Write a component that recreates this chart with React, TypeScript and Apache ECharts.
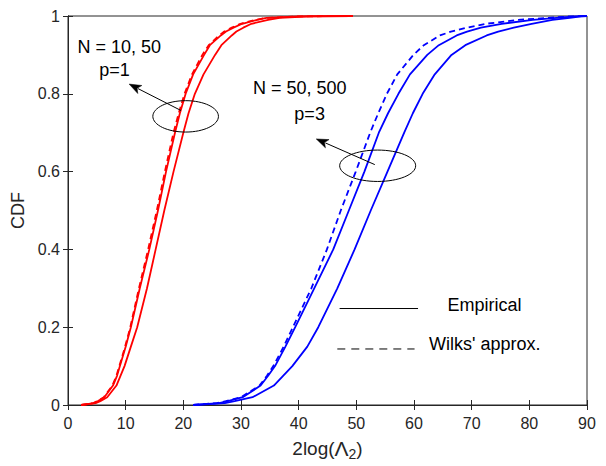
import React, { useEffect, useRef } from "react";
import * as echarts from "echarts";

// CDF levels shared by every curve (y values)
const cdfLevels = [0, 0.005, 0.01, 0.02, 0.05, 0.075, 0.1, 0.15, 0.2, 0.3, 0.4, 0.5, 0.6, 0.7, 0.75, 0.8, 0.85, 0.9, 0.925, 0.95, 0.96, 0.97, 0.98, 0.99, 0.995, 0.999, 1];

// quantiles (x values), one per CDF level
const redEmpiricalA = [2.3, 4.5, 5.2, 6.3, 7.8, 8.5, 9.0, 10.0, 10.9, 12.45, 14.1, 15.6, 17.0, 18.55, 19.4, 20.4, 21.7, 23.6, 24.6, 26.5, 27.4, 28.7, 30.2, 32.8, 34.4, 40.0, 49.4];
const redEmpiricalB = [2.3, 4.8, 5.6, 6.8, 8.4, 9.1, 9.8, 10.9, 12.0, 13.7, 15.2, 16.7, 18.3, 20.0, 20.9, 22.0, 23.5, 25.5, 26.6, 28.4, 29.2, 30.4, 31.8, 34.7, 36.7, 42.0, 49.4];
const redWilks = [2.3, 4.4, 5.1, 6.2, 7.7, 8.4, 8.9, 9.9, 10.8, 12.3, 13.9, 15.4, 16.8, 18.3, 19.2, 20.2, 21.5, 23.3, 24.4, 26.2, 27.1, 28.4, 29.9, 32.5, 34.2, 40.0, 49.4];
const blueWilks = [21.7, 25.8, 27.4, 30.0, 33.2, 34.5, 35.6, 37.4, 39.0, 42.2, 44.9, 47.3, 49.9, 52.4, 53.8, 55.3, 57.1, 59.9, 61.7, 64.5, 66.4, 69.2, 72.5, 78.0, 83.0, 87.0, 90];
const blueEmpiricalA = [21.7, 26.2, 27.7, 30.3, 33.4, 34.7, 35.9, 37.7, 39.4, 42.7, 46.0, 48.7, 51.4, 53.9, 55.5, 57.3, 59.3, 62.3, 64.3, 67.4, 69.2, 71.6, 75.2, 80.6, 84.7, 88.0, 90];
const blueEmpiricalB = [21.7, 27.2, 28.9, 32.0, 35.7, 37.3, 38.9, 41.5, 43.4, 46.7, 49.7, 52.5, 55.4, 58.3, 59.8, 61.5, 63.6, 66.5, 68.9, 72.6, 74.6, 77.3, 80.4, 84.0, 87.0, 89.0, 90];

const xTicks = [0, 10, 20, 30, 40, 50, 60, 70, 80, 90];
const yTicks = [0, 0.2, 0.4, 0.6, 0.8, 1];

const annoTexts = [
  { text: "N = 10, 50", x: 8.9, y: 0.921 },
  { text: "p=1", x: 8.07, y: 0.862 },
  { text: "N = 50, 500", x: 40.2, y: 0.815 },
  { text: "p=3", x: 41.9, y: 0.749 },
];
const ellipses = [
  { x: 20.4, y: 0.742, rx: 32.8, ry: 15.7 },
  { x: 53.7, y: 0.615, rx: 38, ry: 15.7 },
];
const arrows = [
  { from: [19.6, 0.757], to: [10.6, 0.825] },
  { from: [53.2, 0.618], to: [43.05, 0.684] },
];
const legendItems = [
  { label: "Empirical", x0: 47.1, x1: 60.7, y: 0.248, tx: 65.8, ty: 0.257, dashed: false },
  { label: "Wilks' approx.", x0: 46.7, x1: 60.1, y: 0.144, tx: 62.6, ty: 0.156, dashed: true },
];

const FONT = "Liberation Sans, Arial, Helvetica, sans-serif";
const AXIS_COLOR = "#262626";

function pairs(xs: number[]) {
  return xs.map((x, i) => [x, cdfLevels[i]]);
}

export default function App() {
  const ref = useRef<HTMLDivElement>(null);
  useEffect(() => {
    if (!ref.current) return;
    const chart = echarts.init(ref.current, undefined, { renderer: "svg" });
    const lineSeries = (name: string, xs: number[], color: string, dashed: boolean) => ({
      name,
      type: "line",
      data: pairs(xs),
      showSymbol: false,
      symbol: "none",
      smooth: false,
      lineStyle: { color, width: 1.8, type: dashed ? [6, 4] : "solid" },
      z: dashed ? 3 : 2,
    });
    const axisCommon = {
      type: "value",
      axisLine: { show: true, lineStyle: { color: AXIS_COLOR, width: 1 } },
      axisTick: { show: true, inside: true, length: 5, lineStyle: { color: AXIS_COLOR } },
      splitLine: { show: false },
    };
    chart.setOption({
      animation: false,
      backgroundColor: "#fff",
      grid: { left: 68, right: 19, top: 16, bottom: 60, show: true, borderColor: AXIS_COLOR, borderWidth: 1 },
      xAxis: [
        {
          ...axisCommon,
          min: xTicks[0],
          max: xTicks[xTicks.length - 1],
          interval: 10,
          name: "{a|2log(}{L|Λ}{s|2}{a|)}",
          nameLocation: "middle",
          nameGap: 30,
          nameTextStyle: {
            rich: {
              a: { fontSize: 19, fontFamily: FONT, color: AXIS_COLOR },
              L: { fontSize: 21, fontFamily: FONT, color: AXIS_COLOR },
              s: { fontSize: 14, fontFamily: FONT, color: AXIS_COLOR, padding: [12, 0, 0, 0] },
            },
          },
          axisLabel: { fontSize: 16, fontFamily: FONT, color: AXIS_COLOR, margin: 10 },
        },
        {
          ...axisCommon,
          position: "top",
          min: xTicks[0],
          max: xTicks[xTicks.length - 1],
          interval: 10,
          axisLabel: { show: false },
        },
      ],
      yAxis: [
        {
          ...axisCommon,
          min: yTicks[0],
          max: yTicks[yTicks.length - 1],
          interval: 0.2,
          name: "CDF",
          nameLocation: "middle",
          nameGap: 37,
          nameTextStyle: { fontSize: 18, fontFamily: FONT, color: AXIS_COLOR },
          axisLabel: { fontSize: 16, fontFamily: FONT, color: AXIS_COLOR, margin: 8 },
        },
        {
          ...axisCommon,
          position: "right",
          min: yTicks[0],
          max: yTicks[yTicks.length - 1],
          interval: 0.2,
          axisLabel: { show: false },
        },
      ],
      series: [
        lineSeries("N=10 empirical", redEmpiricalA, "#ff0000", false),
        lineSeries("N=50 empirical", redEmpiricalB, "#ff0000", false),
        lineSeries("p=1 Wilks", redWilks, "#ff0000", true),
        lineSeries("p=3 Wilks", blueWilks, "#0000ff", true),
        lineSeries("N=500 empirical", blueEmpiricalA, "#0000ff", false),
        lineSeries("N=50 empirical (p=3)", blueEmpiricalB, "#0000ff", false),
      ],
    });

    const px = (x: number, y: number) => chart.convertToPixel({ gridIndex: 0 }, [x, y]) as number[];
    const graphics: any[] = [];
    annoTexts.forEach((t) => {
      const [cx, cy] = px(t.x, t.y);
      graphics.push({
        type: "text",
        x: cx,
        y: cy,
        style: { text: t.text, fontSize: 18, fontFamily: FONT, fill: "#000", align: "center", verticalAlign: "middle" },
        z: 10,
      });
    });
    ellipses.forEach((e) => {
      const [cx, cy] = px(e.x, e.y);
      graphics.push({
        type: "ellipse",
        shape: { cx, cy, rx: e.rx, ry: e.ry },
        style: { fill: "none", stroke: "#000", lineWidth: 1 },
        z: 10,
      });
    });
    arrows.forEach((a) => {
      const [x1, y1] = px(a.from[0], a.from[1]);
      const [x2, y2] = px(a.to[0], a.to[1]);
      const dx = x2 - x1;
      const dy = y2 - y1;
      const len = Math.sqrt(dx * dx + dy * dy);
      const ux = dx / len;
      const uy = dy / len;
      const hl = 12;
      const hw = 4.5;
      const bx = x2 - ux * hl;
      const by = y2 - uy * hl;
      graphics.push({
        type: "line",
        shape: { x1, y1, x2: bx + ux * 2, y2: by + uy * 2 },
        style: { stroke: "#000", lineWidth: 1 },
        z: 10,
      });
      graphics.push({
        type: "polygon",
        shape: {
          points: [
            [x2, y2],
            [bx - uy * hw, by + ux * hw],
            [bx + ux * 3, by + uy * 3],
            [bx + uy * hw, by - ux * hw],
          ],
        },
        style: { fill: "#000", stroke: "#000", lineWidth: 0.5 },
        z: 10,
      });
    });
    legendItems.forEach((l) => {
      const [ax, ay] = px(l.x0, l.y);
      const [bx] = px(l.x1, l.y);
      const [tx, ty] = px(l.tx, l.ty);
      graphics.push({
        type: "line",
        shape: { x1: ax, y1: ay, x2: bx, y2: ay },
        style: { stroke: "#000", lineWidth: 1, lineDash: l.dashed ? [8, 6] : null },
        z: 10,
      });
      graphics.push({
        type: "text",
        x: tx,
        y: ty,
        style: { text: l.label, fontSize: 18, fontFamily: FONT, fill: "#000", align: "left", verticalAlign: "middle" },
        z: 10,
      });
    });
    chart.setOption({ graphic: graphics });

    return () => chart.dispose();
  }, []);
  return (
    <div
      ref={ref}
      style={{ position: "fixed", left: 0, top: 0, width: 606, height: 466, background: "#fff" }}
    />
  );
}
